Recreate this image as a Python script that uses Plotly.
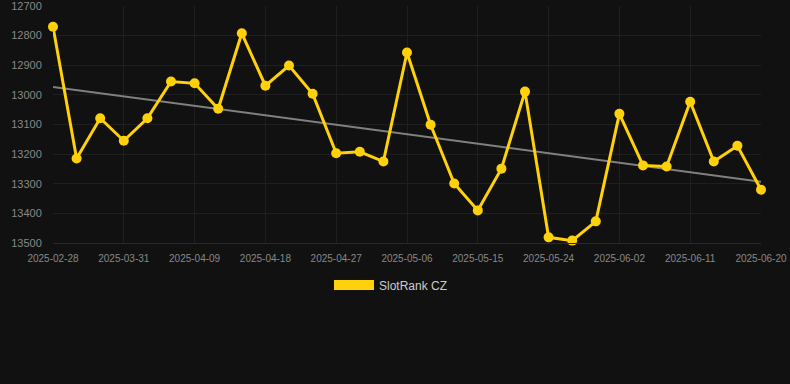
import plotly.graph_objects as go

dates = ["2025-02-28", "2025-03-25", "2025-03-28", "2025-03-31", "2025-04-03", "2025-04-06",
         "2025-04-09", "2025-04-12", "2025-04-15", "2025-04-18", "2025-04-21", "2025-04-24",
         "2025-04-27", "2025-04-30", "2025-05-03", "2025-05-06", "2025-05-09", "2025-05-12",
         "2025-05-15", "2025-05-18", "2025-05-21", "2025-05-24", "2025-05-27", "2025-05-30",
         "2025-06-02", "2025-06-05", "2025-06-08", "2025-06-11", "2025-06-14", "2025-06-17",
         "2025-06-20"]
rank = [12770, 13215, 13079, 13155, 13079, 12955, 12961, 13047, 12792, 12969, 12901, 12996,
        13197, 13192, 13225, 12857, 13101, 13299, 13390, 13249, 12989, 13481, 13492, 13427,
        13064, 13238, 13242, 13023, 13225, 13172, 13320]
trend_ends = [12973, 13293]
tick_labels = dates[0::3]
y_ticks = [12700, 12800, 12900, 13000, 13100, 13200, 13300, 13400, 13500]
series_name = "SlotRank CZ"

gold = "#FFD10A"

fig = go.Figure()
fig.add_trace(go.Scatter(x=[dates[0], dates[-1]], y=trend_ends, mode="lines",
                         line=dict(color="#808080", width=2), showlegend=False,
                         hoverinfo="skip", cliponaxis=False))
fig.add_trace(go.Scatter(x=dates, y=rank, mode="lines+markers",
                         line=dict(color=gold, width=3), cliponaxis=False,
                         marker=dict(color=gold, size=10), showlegend=False))
fig.add_trace(go.Scatter(x=[None], y=[None], mode="lines", name=series_name,
                         line=dict(color=gold, width=12)))

fig.update_layout(
    width=790, height=384,
    paper_bgcolor="#111111", plot_bgcolor="#111111",
    margin=dict(l=53, r=29, t=6, b=141, autoexpand=False),
    font=dict(family="Liberation Sans, Arial, sans-serif", color="#888888"),
    showlegend=True,
    legend=dict(orientation="h", x=0.4774, xanchor="center", y=-0.177, yanchor="middle",
                font=dict(size=12, color="#cccccc"), itemwidth=40,
                bgcolor="rgba(0,0,0,0)"),
    xaxis=dict(type="category", categoryorder="array", categoryarray=dates,
               range=[0, len(dates) - 1], tickmode="array", tickvals=tick_labels,
               ticktext=tick_labels, tickfont=dict(size=10, color="#888888"),
               showgrid=True, gridcolor="#1f1f1f", gridwidth=1, automargin=False,
               showline=True, linecolor="#2a2a2a", zeroline=False,
               ticks="outside", ticklen=6, tickcolor="rgba(0,0,0,0)"),
    yaxis=dict(range=[13500.05, 12699.95], tickmode="array",
               tickvals=y_ticks, ticktext=[str(v) for v in y_ticks],
               tickfont=dict(size=11, color="#888888"), automargin=False,
               ticklabeloverflow="allow",
               showgrid=True, gridcolor="#1f1f1f", gridwidth=1,
               zeroline=False, showline=False, ticks="outside", ticklen=8,
               tickcolor="rgba(0,0,0,0)"),
)

fig.write_html("out.html")
